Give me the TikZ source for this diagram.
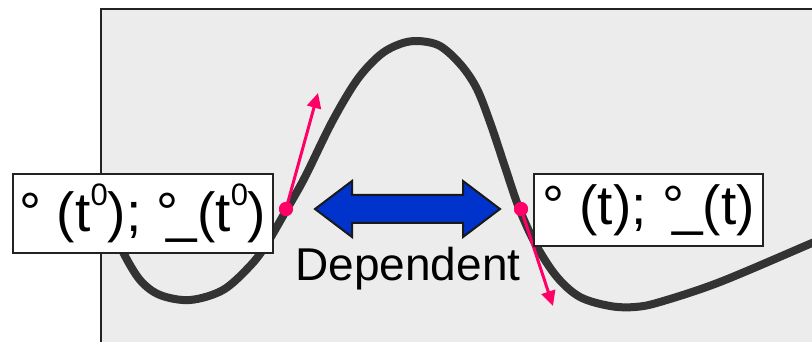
\documentclass[tikz,border=0pt]{standalone}
\usepackage{fontspec}
\setmainfont{Liberation Sans}
\usetikzlibrary{arrows.meta}
\definecolor{pinkc}{HTML}{FF0066}
\definecolor{bluec}{HTML}{0033CC}
\definecolor{bgc}{HTML}{ECECEC}
\definecolor{curvec}{HTML}{333333}
\definecolor{edgec}{HTML}{222222}
\newcommand{\supz}{\raisebox{0.47em}{\fontsize{31}{31}\selectfont 0}}
\newcommand{\ubar}{\kern-0.22em\_}
\begin{document}
\begin{tikzpicture}[x=1pt,y=-1pt,
  curve/.style={line width=8pt, curvec, line cap=round},
  tangent/.style={line width=3pt, pinkc, -{Triangle[length=15pt,width=14pt]}},
  dot/.style={circle, fill=pinkc, inner sep=0pt, minimum size=14pt},
  box/.style={draw=edgec, line width=2pt, fill=white, inner sep=0pt,
    font=\fontsize{55}{55}\selectfont},
  label/.style={font=\fontsize{46}{46}\selectfont, text=black},
  bigarrow/.style={draw=black!90, line width=2pt, fill=bluec, line join=miter}]
\useasboundingbox (0,0) rectangle (812,342);
\begin{scope}
\clip (0,0) rectangle (812,342);
\fill[bgc] (101,9) rectangle (830,360);
\draw[line width=2.5pt, edgec] (101,360) -- (101,9) -- (830,9);
\draw[curve] plot[smooth, tension=0.55] coordinates {
  (116,232) (123,252) (140,280) (160,295) (190,300) (223,290) (250,266)
  (266,245) (287,209) (305,177) (332,122) (357,80) (380,55) (400,44)
  (418,41) (440,46) (461,65) (477,89) (491,125) (505,167) (519,208)
  (536,245) (557,277) (580,297) (610,306) (635,307) (660,302) (720,282)
  (812,243) (830,235)};
\end{scope}
% tangent arrows and points
\node[dot] (p0) at (286,209) {};
\node[dot] (p1) at (521,209) {};
\coordinate (v0) at (318,93);
\coordinate (v1) at (553,306);
\draw[tangent] (p0.center) -- (v0);
\draw[tangent] (p1.center) -- (v1);
\node[dot] at (p0) {};
\node[dot] at (p1) {};
% boxes
\node[box, minimum width=260pt, minimum height=79pt] (b0) at (143,213.5)
  {° (t\supz); °\ubar(t\supz)};
\node[box, minimum width=229pt, minimum height=72pt] (b1) at (648.5,210)
  {° (t); °\ubar(t)};
% dependency arrow
\draw[bigarrow] (315,209) -- (352,181) -- (352,195) -- (463,195) -- (463,181)
  -- (500,209) -- (463,237) -- (463,223) -- (352,223) -- (352,237) -- cycle;
\node[label, anchor=base] (dep) at (408,280) {Dependent};
\end{tikzpicture}
\end{document}
